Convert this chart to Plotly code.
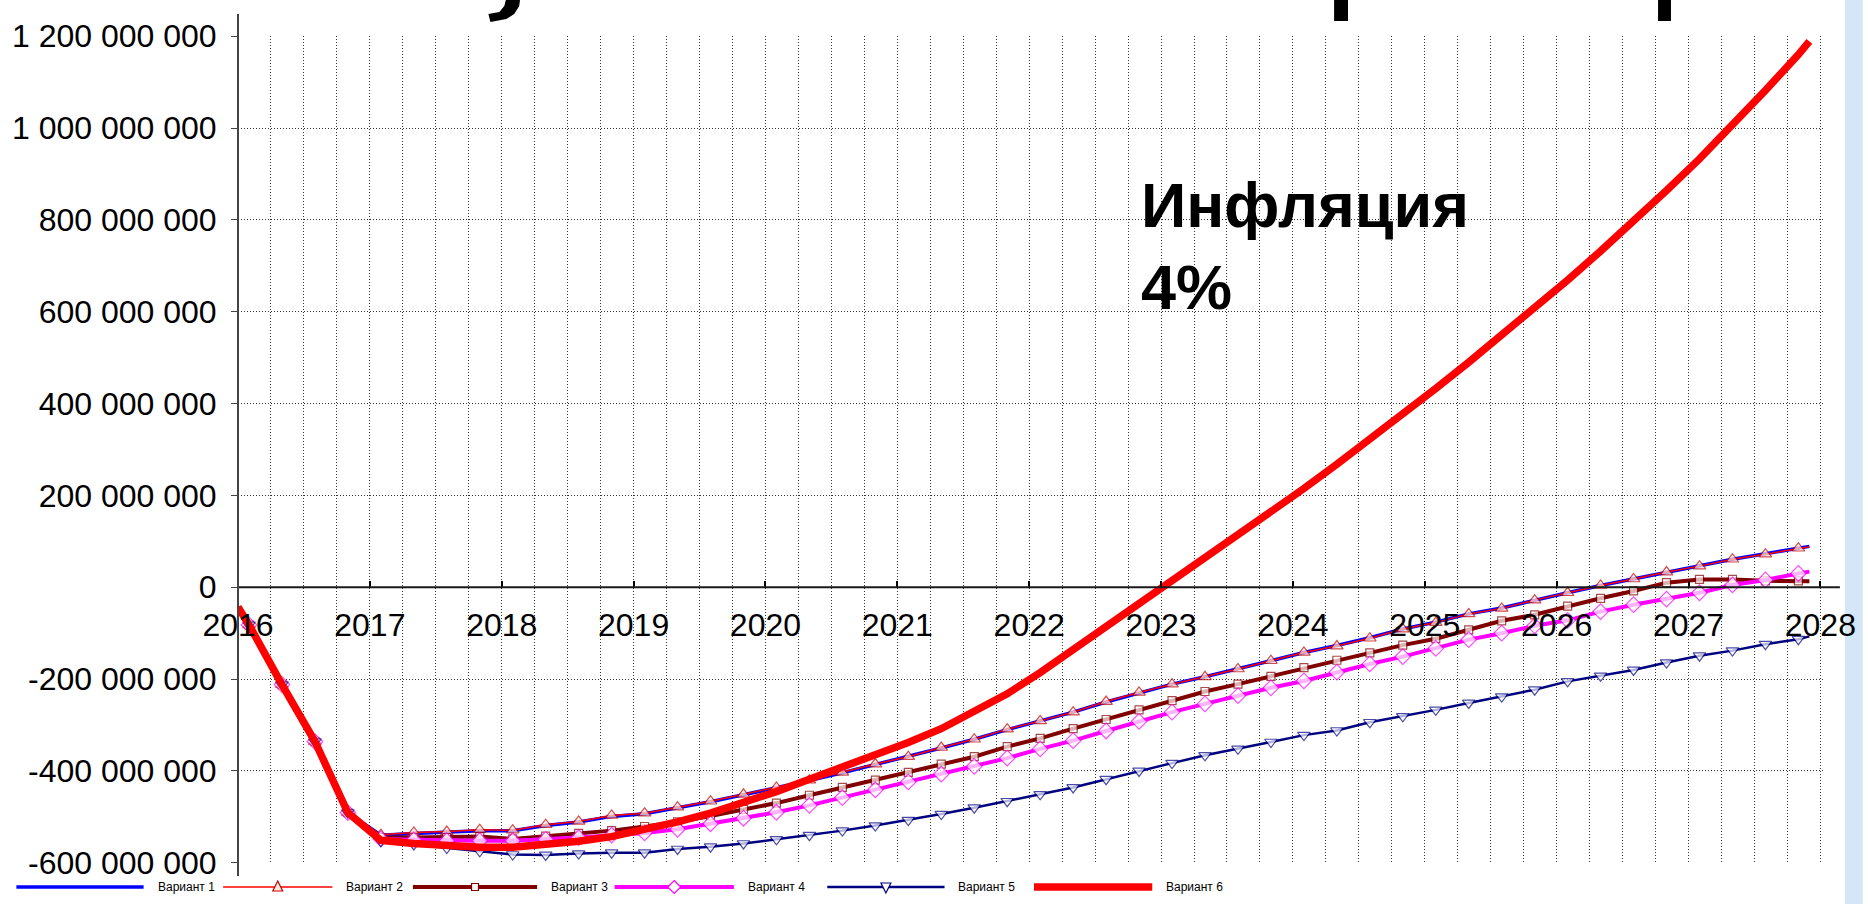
import plotly.graph_objects as go

# ---------------- data (values in millions) ----------------
# months since Jan 2016: start, quarterly marker months, end
MONTHS = [0] + list(range(1, 143, 3)) + [143]

SERIES_NAMES = ["Вариант 1", "Вариант 2", "Вариант 3", "Вариант 4", "Вариант 5", "Вариант 6"]

V1 = [-43, -82, -212, -336, -491,
      -540, -536, -533, -530, -530, -519, -511, -499,
      -493, -480, -467, -452, -437, -421, -404, -386,
      -369, -350, -331, -310, -291, -272, -250, -230,
      -211, -195, -178, -160, -142, -127, -110, -91,
      -76, -58, -45, -28, -12, 4, 18, 33,
      47, 61, 73, 85, 89]

V2 = [-43, -82, -212, -336, -491,
      -539, -534, -532, -528, -529, -517, -510, -497,
      -492, -479, -466, -451, -436, -420, -403, -385,
      -369, -349, -331, -309, -291, -272, -249, -229,
      -211, -195, -178, -160, -142, -128, -111, -91,
      -77, -58, -46, -28, -12, 4, 18, 33,
      46, 61, 72, 85, 88]

V3 = [-43, -82, -212, -336, -491,
      -545, -545, -545, -543, -548, -542, -536, -530,
      -521, -511, -498, -484, -470, -453, -436, -420,
      -403, -385, -369, -347, -329, -308, -288, -267,
      -247, -227, -211, -194, -175, -159, -143, -126,
      -112, -93, -73, -60, -41, -24, -8, 10,
      17, 17, 14, 14, 13]

V4 = [-43, -82, -212, -336, -491,
      -548, -550, -552, -552, -552, -549, -545, -540,
      -535, -527, -515, -503, -490, -475, -458, -441,
      -424, -407, -390, -372, -352, -334, -313, -292,
      -272, -254, -236, -219, -204, -185, -167, -151,
      -133, -114, -100, -84, -72, -53, -38, -26,
      -12, 5, 16, 30, 34]

V5 = [-43, -82, -212, -336, -491,
      -553, -560, -568, -575, -582, -583, -580, -578,
      -578, -570, -565, -558, -549, -540, -530, -519,
      -507, -494, -480, -466, -451, -436, -418, -400,
      -383, -366, -352, -337, -322, -312, -294, -281,
      -267, -252, -238, -223, -205, -193, -180, -164,
      -149, -138, -124, -113, -107]

V6 = [-43, -82, -212, -336, -491,
      -551, -558, -563, -566, -566, -561, -553, -543,
      -528, -511, -492, -470, -445, -418, -392, -366,
      -338, -308, -272, -232, -186, -136, -86, -37,
      13, 62, 112, 163, 215, 268, 322, 377,
      433, 490, 548, 608, 669, 732, 797, 864,
      933, 1006, 1082, 1160, 1189]

X_TICK_YEARS = [2016, 2017, 2018, 2019, 2020, 2021, 2022, 2023, 2024, 2025, 2026, 2027, 2028]
X_TICK_LABELS = [str(y) for y in X_TICK_YEARS]
Y_TICK_VALUES = [-600e6, -400e6, -200e6, 0, 200e6, 400e6, 600e6, 800e6, 1000e6, 1200e6]
Y_TICK_LABELS = ["-600 000 000", "-400 000 000", "-200 000 000", "0", "200 000 000",
                 "400 000 000", "600 000 000", "800 000 000", "1 000 000 000", "1 200 000 000"]

ANNOTATION_TEXT = "<b>Инфляция<br>4%</b>"

# ---------------- figure geometry ----------------
W, H = 1868, 904
ML, MR, MT, MB = 235, 38, 36, 41
X_RANGE = [2016, 2028.02]
Y_RANGE = [-600.5e6, 1200.5e6]
PW = W - ML - MR
PH = H - MT - MB
FONT = "Liberation Sans, Arial, sans-serif"


def fx(p):  # page pixel -> paper x
    return (p - ML) / PW


def fy(p):  # page pixel -> paper y
    return (H - MB - p) / PH


x_vals = [2016 + m / 12 for m in MONTHS]


def sizes(s):
    return [0] + [s] * (len(MONTHS) - 2) + [0]


# per-series style: line colour, line width, marker symbol, marker size, marker fill, marker edge
STYLES = [
    dict(color="#0000FF", width=3.5, symbol=None, size=0, fill=None, edge=None),
    dict(color="#FF0000", width=1.5, symbol="triangle-up", size=11, fill="#FFE8E0", edge="#C00000"),
    dict(color="#800000", width=4, symbol="square", size=8, fill="#FFFFFF", edge="#800000"),
    dict(color="#FF00FF", width=4, symbol="diamond", size=12, fill="#FFFFFF", edge="#FF00FF"),
    dict(color="#000080", width=2.5, symbol="triangle-down", size=11, fill="#FFFFFF", edge="#000080"),
    dict(color="#FF0000", width=7.5, symbol=None, size=0, fill=None, edge=None),
]

fig = go.Figure()
for name, vals, st in zip(SERIES_NAMES, [V1, V2, V3, V4, V5, V6], STYLES):
    kw = dict(line=dict(color=st["color"], width=st["width"]))
    if st["symbol"]:
        kw["mode"] = "lines+markers"
        kw["marker"] = dict(symbol=st["symbol"], size=sizes(st["size"]), color=st["fill"],
                            line=dict(color=st["edge"], width=1.2))
    else:
        kw["mode"] = "lines"
    fig.add_trace(go.Scatter(x=x_vals, y=[v * 1e6 for v in vals], name=name,
                             showlegend=False, **kw))

zero_pos = (0 - Y_RANGE[0]) / (Y_RANGE[1] - Y_RANGE[0])
GRID_COLOR = "#333333"
GRID_DASH = "1px,2px"

fig.update_layout(
    width=W, height=H,
    margin=dict(l=ML, r=MR, t=MT, b=MB, pad=0),
    paper_bgcolor="white", plot_bgcolor="white",
    font=dict(family=FONT, color="black"),
    showlegend=False,
    xaxis=dict(
        range=X_RANGE, anchor="free", position=zero_pos,
        tickmode="array", tickvals=X_TICK_YEARS, ticktext=X_TICK_LABELS,
        ticks="inside", ticklen=6, tickwidth=1.5, tickcolor="black",
        ticklabelstandoff=16,
        tickfont=dict(family=FONT, size=32, color="black"),
        showgrid=True, gridcolor=GRID_COLOR, griddash=GRID_DASH, gridwidth=1,
        minor=dict(dtick=0.25, tick0=2016, showgrid=True, gridcolor=GRID_COLOR,
                   griddash=GRID_DASH, gridwidth=1, ticks=""),
        showline=False, zeroline=False,
    ),
    yaxis=dict(
        range=Y_RANGE,
        tickmode="array", tickvals=Y_TICK_VALUES, ticktext=Y_TICK_LABELS,
        ticks="outside", ticklen=6, tickcolor="#444", ticklabelstandoff=8,
        tickfont=dict(family=FONT, size=32, color="black"),
        showgrid=True, gridcolor=GRID_COLOR, griddash=GRID_DASH, gridwidth=1,
        showline=False, zeroline=False,
    ),
)

# axis lines: zero line running a little past the last grid line, and the y axis line
fig.add_shape(type="line", xref="paper", yref="y", x0=0, x1=fx(1847), y0=0, y1=0,
              line=dict(color="#1a1a1a", width=2))
fig.add_shape(type="line", xref="paper", yref="paper", x0=0, x1=0, y0=fy(876), y1=fy(14),
              line=dict(color="#444444", width=2))

# annotation
fig.add_annotation(text=ANNOTATION_TEXT, xref="paper", yref="paper",
                   x=fx(1142), y=fy(168), xanchor="left", yanchor="top", align="left",
                   showarrow=False, font=dict(family=FONT, size=63, color="black"))

# ---------------- legend (drawn along the bottom edge) ----------------
LEGEND_Y = 887
LEGEND_LINE_X0 = [12, 220, 411, 614, 828, 1036]
LEGEND_TEXT_X = [152, 342, 548, 746, 958, 1167]
LEGEND_GAP = 12


def poly(points):
    return "M " + " L ".join(f"{fx(a):.5f},{fy(b):.5f}" for a, b in points) + " Z"


def marker_points(symbol, cx, cy, s):
    h = s / 2
    if symbol == "triangle-up":
        return [(cx, cy - h - 1), (cx - h, cy + h - 1), (cx + h, cy + h - 1)]
    if symbol == "triangle-down":
        return [(cx, cy + h + 1), (cx - h, cy - h + 1), (cx + h, cy - h + 1)]
    if symbol == "square":
        return [(cx - h, cy - h), (cx + h, cy - h), (cx + h, cy + h), (cx - h, cy + h)]
    if symbol == "diamond":
        return [(cx, cy - h - 1), (cx + h + 1, cy), (cx, cy + h + 1), (cx - h - 1, cy)]
    return []


for name, st, lx, tx in zip(SERIES_NAMES, STYLES, LEGEND_LINE_X0, LEGEND_TEXT_X):
    x0, x1 = lx, tx - LEGEND_GAP
    fig.add_shape(type="line", xref="paper", yref="paper",
                  x0=fx(x0), x1=fx(x1), y0=fy(LEGEND_Y), y1=fy(LEGEND_Y),
                  line=dict(color=st["color"], width=st["width"]))
    if st["symbol"]:
        pts = marker_points(st["symbol"], (x0 + x1) / 2, LEGEND_Y, st["size"] - 1)
        fig.add_shape(type="path", xref="paper", yref="paper", path=poly(pts),
                      fillcolor=st["fill"], line=dict(color=st["edge"], width=1.2))
    fig.add_annotation(text=name, xref="paper", yref="paper", x=fx(tx), y=fy(LEGEND_Y),
                       xanchor="left", yanchor="middle", showarrow=False,
                       font=dict(family=FONT, size=12, color="black"))

# slide decoration: right-hand light blue band
fig.add_shape(type="rect", xref="paper", yref="paper", layer="below",
              x0=fx(1852), x1=fx(1870), y0=fy(906), y1=fy(-2),
              fillcolor="#d3e7f9", line=dict(width=0))

# fragments of the slide heading cut off by the top edge
fragments = [
    [(505, -2), (519, -2), (518, 6), (513, 14), (505, 19), (489, 22), (487, 14), (498, 12), (503, 6)],
    [(1338, -2), (1352, -2), (1352, 21), (1338, 21)],
    [(1664, -2), (1677, -2), (1677, 21), (1664, 21)],
]
for pts in fragments:
    fig.add_shape(type="path", xref="paper", yref="paper", path=poly(pts),
                  fillcolor="black", line=dict(width=0))

fig.write_html("out.html", config={"displayModeBar": False},
               post_script="document.body.style.margin='0';document.body.style.overflow='hidden';")
